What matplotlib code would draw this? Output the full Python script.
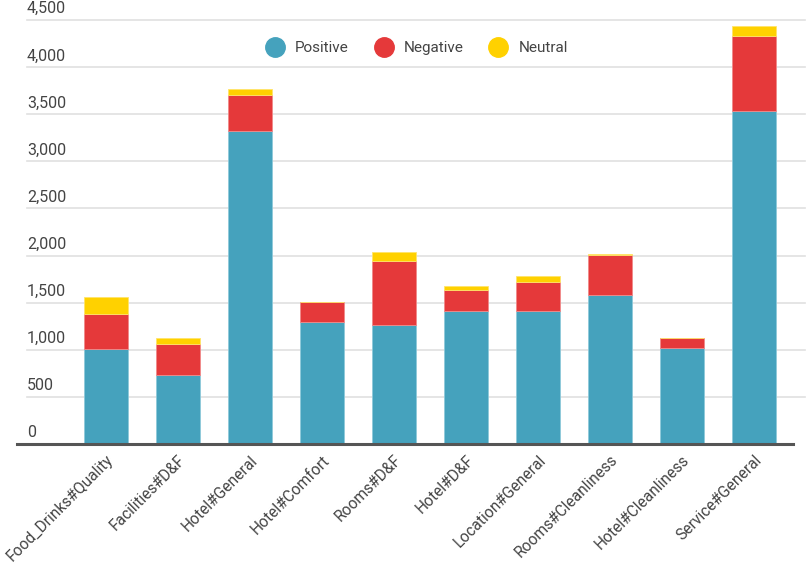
import numpy as np
import matplotlib.pyplot as plt
from matplotlib.lines import Line2D

plt.rcParams["font.family"] = ["Roboto", "DejaVu Sans"]

# Data
categories = [
    "Food_Drinks#Quality",
    "Facilities#D&F",
    "Hotel#General",
    "Hotel#Comfort",
    "Rooms#D&F",
    "Hotel#D&F",
    "Location#General",
    "Rooms#Cleanliness",
    "Hotel#Cleanliness",
    "Service#General",
]
positive = [1005, 730, 3320, 1300, 1260, 1415, 1415, 1585, 1015, 3530]
negative = [370, 335, 385, 210, 685, 220, 300, 425, 115, 800]
neutral = [180, 65, 65, 0, 95, 40, 65, 10, 0, 105]
y_ticks = [0, 500, 1000, 1500, 2000, 2500, 3000, 3500, 4000, 4500]

c_pos = "#45a2bd"
c_neg = "#e5393a"
c_neu = "#ffd100"
text_c = "#444444"

fig = plt.figure(figsize=(8.07, 5.67), dpi=100)
ax = fig.add_axes([27 / 807, 1 - 444 / 567, 778 / 807, 424 / 567])

x = np.arange(len(categories))
w = 0.61
pos = np.array(positive)
neg = np.array(negative)
neu = np.array(neutral)

ax.bar(x, pos, w, color=c_pos, edgecolor="#8ec9da", linewidth=0.6, zorder=3)
ax.bar(x, neg, w, bottom=pos, color=c_neg, edgecolor="#f08a8a", linewidth=0.6, zorder=3)
ax.bar(x, neu, w, bottom=pos + neg, color=c_neu, edgecolor="#ffe46a", linewidth=0.6, zorder=3)

ax.set_xlim(-1.097, 9.71)
ax.set_ylim(0, 4500)

for s in ax.spines.values():
    s.set_visible(False)

# gridlines and tick labels above them
for t in y_ticks[1:]:
    ax.axhline(t, color="#e0e0e0", lw=1.2, zorder=1, clip_on=False)
for t in y_ticks:
    ax.text(0.0, t + 40, "{:,}".format(t), transform=ax.get_yaxis_transform(),
            ha="left", va="bottom", fontsize=11.5, color=text_c)
ax.set_yticks([])

# base line
ax.axhline(0, xmin=-0.013, xmax=0.985, color="#555555", lw=2.2, zorder=4, clip_on=False)

ax.set_xticks(x)
ax.set_xticklabels(categories, rotation=45, ha="right", rotation_mode="anchor",
                   fontsize=11.2, color=text_c)
ax.tick_params(axis="x", length=0, pad=6)

handles = [
    Line2D([0], [0], marker="o", linestyle="", markersize=14, color=c, label=l)
    for c, l in [(c_pos, "Positive"), (c_neg, "Negative"), (c_neu, "Neutral")]
]
leg = ax.legend(handles=handles, loc="center", bbox_to_anchor=(0.497, 0.934), ncol=3,
                frameon=False, fontsize=11, handletextpad=0.3, columnspacing=1.3)
for t in leg.get_texts():
    t.set_color(text_c)

plt.savefig("out.png", dpi=100)
